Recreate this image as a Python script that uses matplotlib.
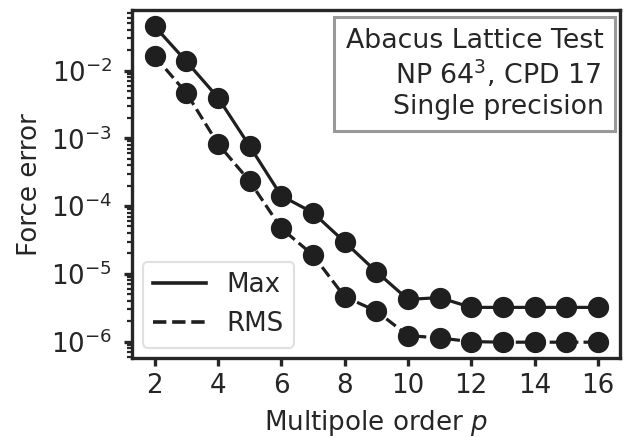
import matplotlib
matplotlib.use("Agg")
import matplotlib.pyplot as plt
from matplotlib.lines import Line2D

orders = [2, 3, 4, 5, 6, 7, 8, 9, 10, 11, 12, 13, 14, 15, 16]
max_err = [4.5e-2, 1.37e-2, 4.0e-3, 7.7e-4, 1.42e-4, 8.0e-5, 2.96e-5, 1.08e-5,
           4.2e-6, 4.45e-6, 3.2e-6, 3.2e-6, 3.2e-6, 3.2e-6, 3.2e-6]
rms_err = [1.63e-2, 4.7e-3, 8.3e-4, 2.34e-4, 4.7e-5, 1.9e-5, 4.6e-6, 2.83e-6,
           1.23e-6, 1.13e-6, 1.0e-6, 0.98e-6, 0.98e-6, 0.98e-6, 0.98e-6]
xticks = [2, 4, 6, 8, 10, 12, 14, 16]

dark = "#262626"
fs = 18.8
plt.rcParams.update({
    "font.family": ["DejaVu Sans"],
    "font.size": fs,
    "text.color": dark,
    "axes.labelcolor": dark,
    "xtick.color": dark,
    "ytick.color": dark,
    "axes.edgecolor": dark,
    "axes.linewidth": 2.4,
    "xtick.major.width": 2.4,
    "ytick.major.width": 2.4,
    "ytick.minor.width": 1.6,
    "xtick.major.size": 6,
    "ytick.major.size": 6,
    "ytick.minor.size": 3.3,
    "xtick.major.pad": 4.8,
    "ytick.major.pad": 8.5,
    "mathtext.fontset": "dejavusans",
})

fig = plt.figure(figsize=(6.27, 4.37), dpi=100)
ax = fig.add_axes([0.2112, 0.1808, 0.7777, 0.7952])

ax.plot(orders, max_err, "-o", color="#1f1f1f", lw=2.3, ms=14.3)
ax.plot(orders, rms_err, "--o", color="#1f1f1f", lw=2.3, ms=14.3)
ax.set_yscale("log")
ax.set_xticks(xticks)
ax.tick_params(labelsize=fs)
ax.set_xlabel("Multipole order $p$", fontsize=fs)
ax.set_ylabel("Force error", fontsize=fs)
ax.xaxis.set_label_coords(0.5, -0.144)
ax.yaxis.set_label_coords(-0.183, 0.5)

handles = [Line2D([], [], color="#1f1f1f", lw=2.6, ls="-"),
           Line2D([], [], color="#1f1f1f", lw=2.6, ls="--")]
leg = ax.legend(handles, ["Max", "RMS"], loc="lower left", fontsize=fs,
                frameon=True, handlelength=2.0, borderaxespad=0.4, fancybox=True)
leg.get_frame().set_edgecolor("#d9d9d9")
leg.get_frame().set_linewidth(1.5)

ax.text(0.966, 0.95, "Abacus Lattice Test\nNP 64$^3$, CPD 17 \nSingle precision",
        transform=ax.transAxes, ha="right", va="top", fontsize=19.3,
        multialignment="right", linespacing=1.18,
        bbox=dict(boxstyle="square,pad=0.42", fc="white", ec="#999999", lw=2.2))

fig.savefig("out.png", dpi=100)
